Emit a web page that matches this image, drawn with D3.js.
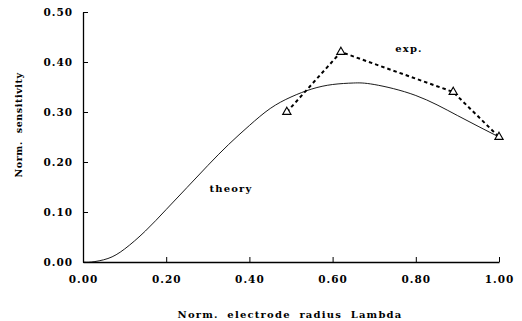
<!DOCTYPE html>
<html>
<head>
<meta charset="utf-8">
<script src="https://cdn.jsdelivr.net/npm/d3@7"></script>
<style>
  body { margin: 0; background: #fff; }
  text { font-family: "DejaVu Serif", "Liberation Serif", serif; font-weight: bold; fill: #000; }
</style>
</head>
<body>
<div id="chart"></div>
<script>
// size of the page
let w = 522;
let h = 321;
let margin = {top: 12, right: 23, bottom: 59, left: 83};

// theory curve
let theoryX = [0, 0.02, 0.06, 0.10, 0.15, 0.20, 0.25, 0.30, 0.35, 0.40, 0.45, 0.50, 0.55, 0.60, 0.65, 0.70, 0.80, 0.90, 1.00];
let theoryY = [0, 0, 0.007, 0.026, 0.062, 0.105, 0.149, 0.193, 0.235, 0.273, 0.307, 0.330, 0.346, 0.355, 0.358, 0.355, 0.333, 0.293, 0.250];

// experiment points
let expX = [0.49, 0.62, 0.89, 1.00];
let expY = [0.30, 0.42, 0.34, 0.25];

let xTicks = [0, 0.2, 0.4, 0.6, 0.8, 1.0];
let yTicks = [0, 0.1, 0.2, 0.3, 0.4, 0.5];

let fmt = d3.format(".2f");

var svg = d3.select("#chart")
            .append("svg")
            .attr("width", w)
            .attr("height", h);

var x = d3.scaleLinear().domain([0, 1]).range([margin.left, w - margin.right]);
var y = d3.scaleLinear().domain([0, 0.5]).range([h - margin.bottom, margin.top]);

// axes, ticks pointing inwards
var xAxis = svg.append("g")
    .attr("transform", "translate(0," + y(0) + ")")
    .call(d3.axisBottom(x).tickValues(xTicks).tickSizeInner(-5).tickSizeOuter(0).tickPadding(14).tickFormat(fmt));

var yAxis = svg.append("g")
    .attr("transform", "translate(" + x(0) + ",0)")
    .call(d3.axisLeft(y).tickValues(yTicks).tickSizeInner(-5).tickSizeOuter(0).tickPadding(10).tickFormat(fmt));

[xAxis, yAxis].forEach(function(a) {
    a.select(".domain").attr("stroke", "#000").attr("stroke-width", 1.3);
    a.selectAll(".tick line").attr("stroke", "#000").attr("stroke-width", 1);
    a.selectAll(".tick text")
        .style("font-family", "'DejaVu Serif', serif")
        .style("font-weight", "bold")
        .style("font-size", "10.5px")
        .style("letter-spacing", "1px");
});

// theory line
var theory = theoryX.map(function(d, i) { return [d, theoryY[i]]; });
var line = d3.line()
    .x(function(d) { return x(d[0]); })
    .y(function(d) { return y(d[1]); })
    .curve(d3.curveNatural);

svg.append("path")
    .datum(theory)
    .attr("d", line)
    .attr("fill", "none")
    .attr("stroke", "#000")
    .attr("stroke-width", 0.9);

// experiment line, dotted
var exp = expX.map(function(d, i) { return [d, expY[i]]; });
svg.append("path")
    .datum(exp)
    .attr("d", d3.line().x(function(d) { return x(d[0]); }).y(function(d) { return y(d[1]); }))
    .attr("fill", "none")
    .attr("stroke", "#000")
    .attr("stroke-width", 2)
    .attr("stroke-dasharray", "3.5,3");

var tri = d3.symbol().type(d3.symbolTriangle).size(30);
svg.selectAll(".pt")
    .data(exp)
    .enter()
    .append("path")
    .attr("class", "pt")
    .attr("d", tri)
    .attr("transform", function(d) { return "translate(" + x(d[0]) + "," + y(d[1]) + ")"; })
    .attr("fill", "#fff")
    .attr("stroke", "#000")
    .attr("stroke-width", 1.1);

// series labels
svg.append("text")
    .attr("x", 231).attr("y", 192)
    .attr("text-anchor", "middle")
    .style("font-size", "10px")
    .style("letter-spacing", "1.2px")
    .text("theory");

svg.append("text")
    .attr("x", 409).attr("y", 52)
    .attr("text-anchor", "middle")
    .style("font-size", "10px")
    .style("letter-spacing", "1.2px")
    .text("exp.");

// axis titles
svg.append("text")
    .attr("x", 290).attr("y", 318)
    .attr("text-anchor", "middle")
    .style("font-size", "10px")
    .style("letter-spacing", "1.2px")
    .style("word-spacing", "4px")
    .text("Norm. electrode radius Lambda");

svg.append("text")
    .attr("transform", "translate(22,125) rotate(-90)")
    .attr("text-anchor", "middle")
    .style("font-size", "9.5px")
    .style("letter-spacing", "0.6px")
    .style("word-spacing", "4px")
    .text("Norm. sensitivity");
</script>
</body>
</html>
